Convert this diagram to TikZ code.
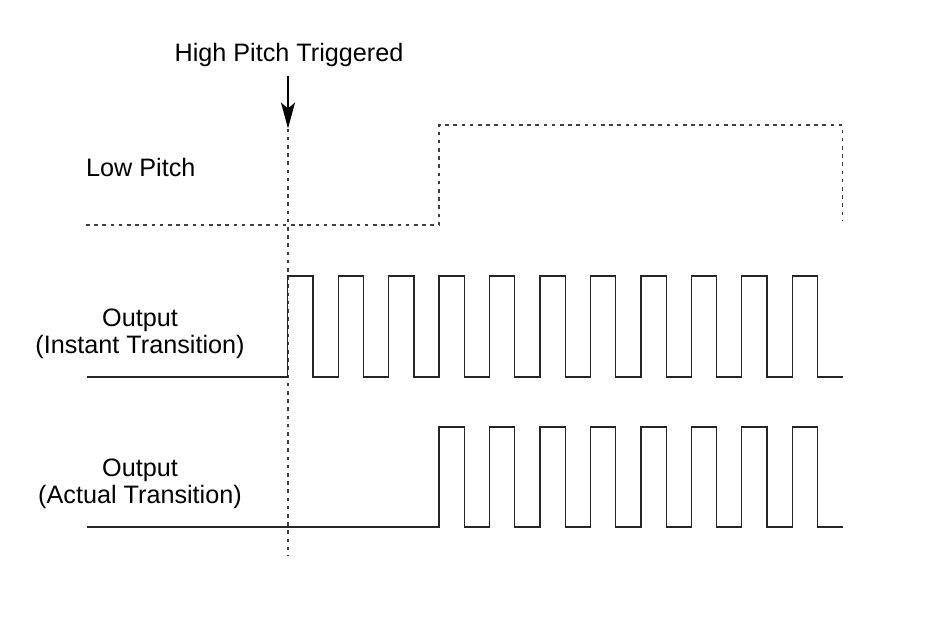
\documentclass[tikz,border=0pt]{standalone}
\usepackage{fontspec}
\setmainfont{Liberation Sans}
\usetikzlibrary{arrows.meta}
\begin{document}
\begin{tikzpicture}[x=1pt,y=-1pt,
  wave/.style={line width=1.3pt, line join=miter, black!85},
  dashline/.style={line width=1.5pt, dash pattern=on 3.6pt off 4.6pt, black!75},
  lbl/.style={font=\fontsize{25.2}{29}\selectfont, inner sep=0pt, anchor=base},
  lblw/.style={lbl, anchor=base west},
  trigarrow/.style={line width=1.3pt, black, -{Stealth[length=26pt,width=14pt,inset=6pt]}},
]
\useasboundingbox (0,0) rectangle (941,629);
% labels
\node[lbl] (hpt) at (289,61) {High Pitch Triggered};
\node[lblw] (lp) at (86,176) {Low Pitch};
\node[lbl] (o1a) at (140,326) {Output};
\node[lbl] (o1b) at (140,353) {(Instant Transition)};
\node[lbl] (o2a) at (140,476) {Output};
\node[lbl] (o2b) at (140,503) {(Actual Transition)};
% trigger arrow and marker line
\coordinate (astart) at (288,76);
\coordinate (trig) at (288,128.5);
\coordinate (mend) at (288,556);
\draw[trigarrow] (astart) -- (trig);
\draw[dashline] (trig) -- (mend);
% low pitch signal
\coordinate (lp0) at (86,225);
\coordinate (lp1) at (439,225);
\coordinate (lp2) at (439,125);
\coordinate (lp3) at (842.5,125);
\coordinate (lp4) at (842.5,221);
\draw[dashline] (lp0) -- (lp1) -- (lp2) -- (lp3) -- (lp4);
% output, instant transition
\draw[wave] (87,377) -- (287.7,377)
  \foreach \k in {0,...,10} { -- ++(0,-101) -- ++(25.3,0) -- ++(0,101) -- ++(25.15,0) };
% output, actual transition
\draw[wave] (87,527) -- (439.05,527)
  \foreach \k in {0,...,7} { -- ++(0,-100) -- ++(25.3,0) -- ++(0,100) -- ++(25.15,0) };
\end{tikzpicture}
\end{document}
